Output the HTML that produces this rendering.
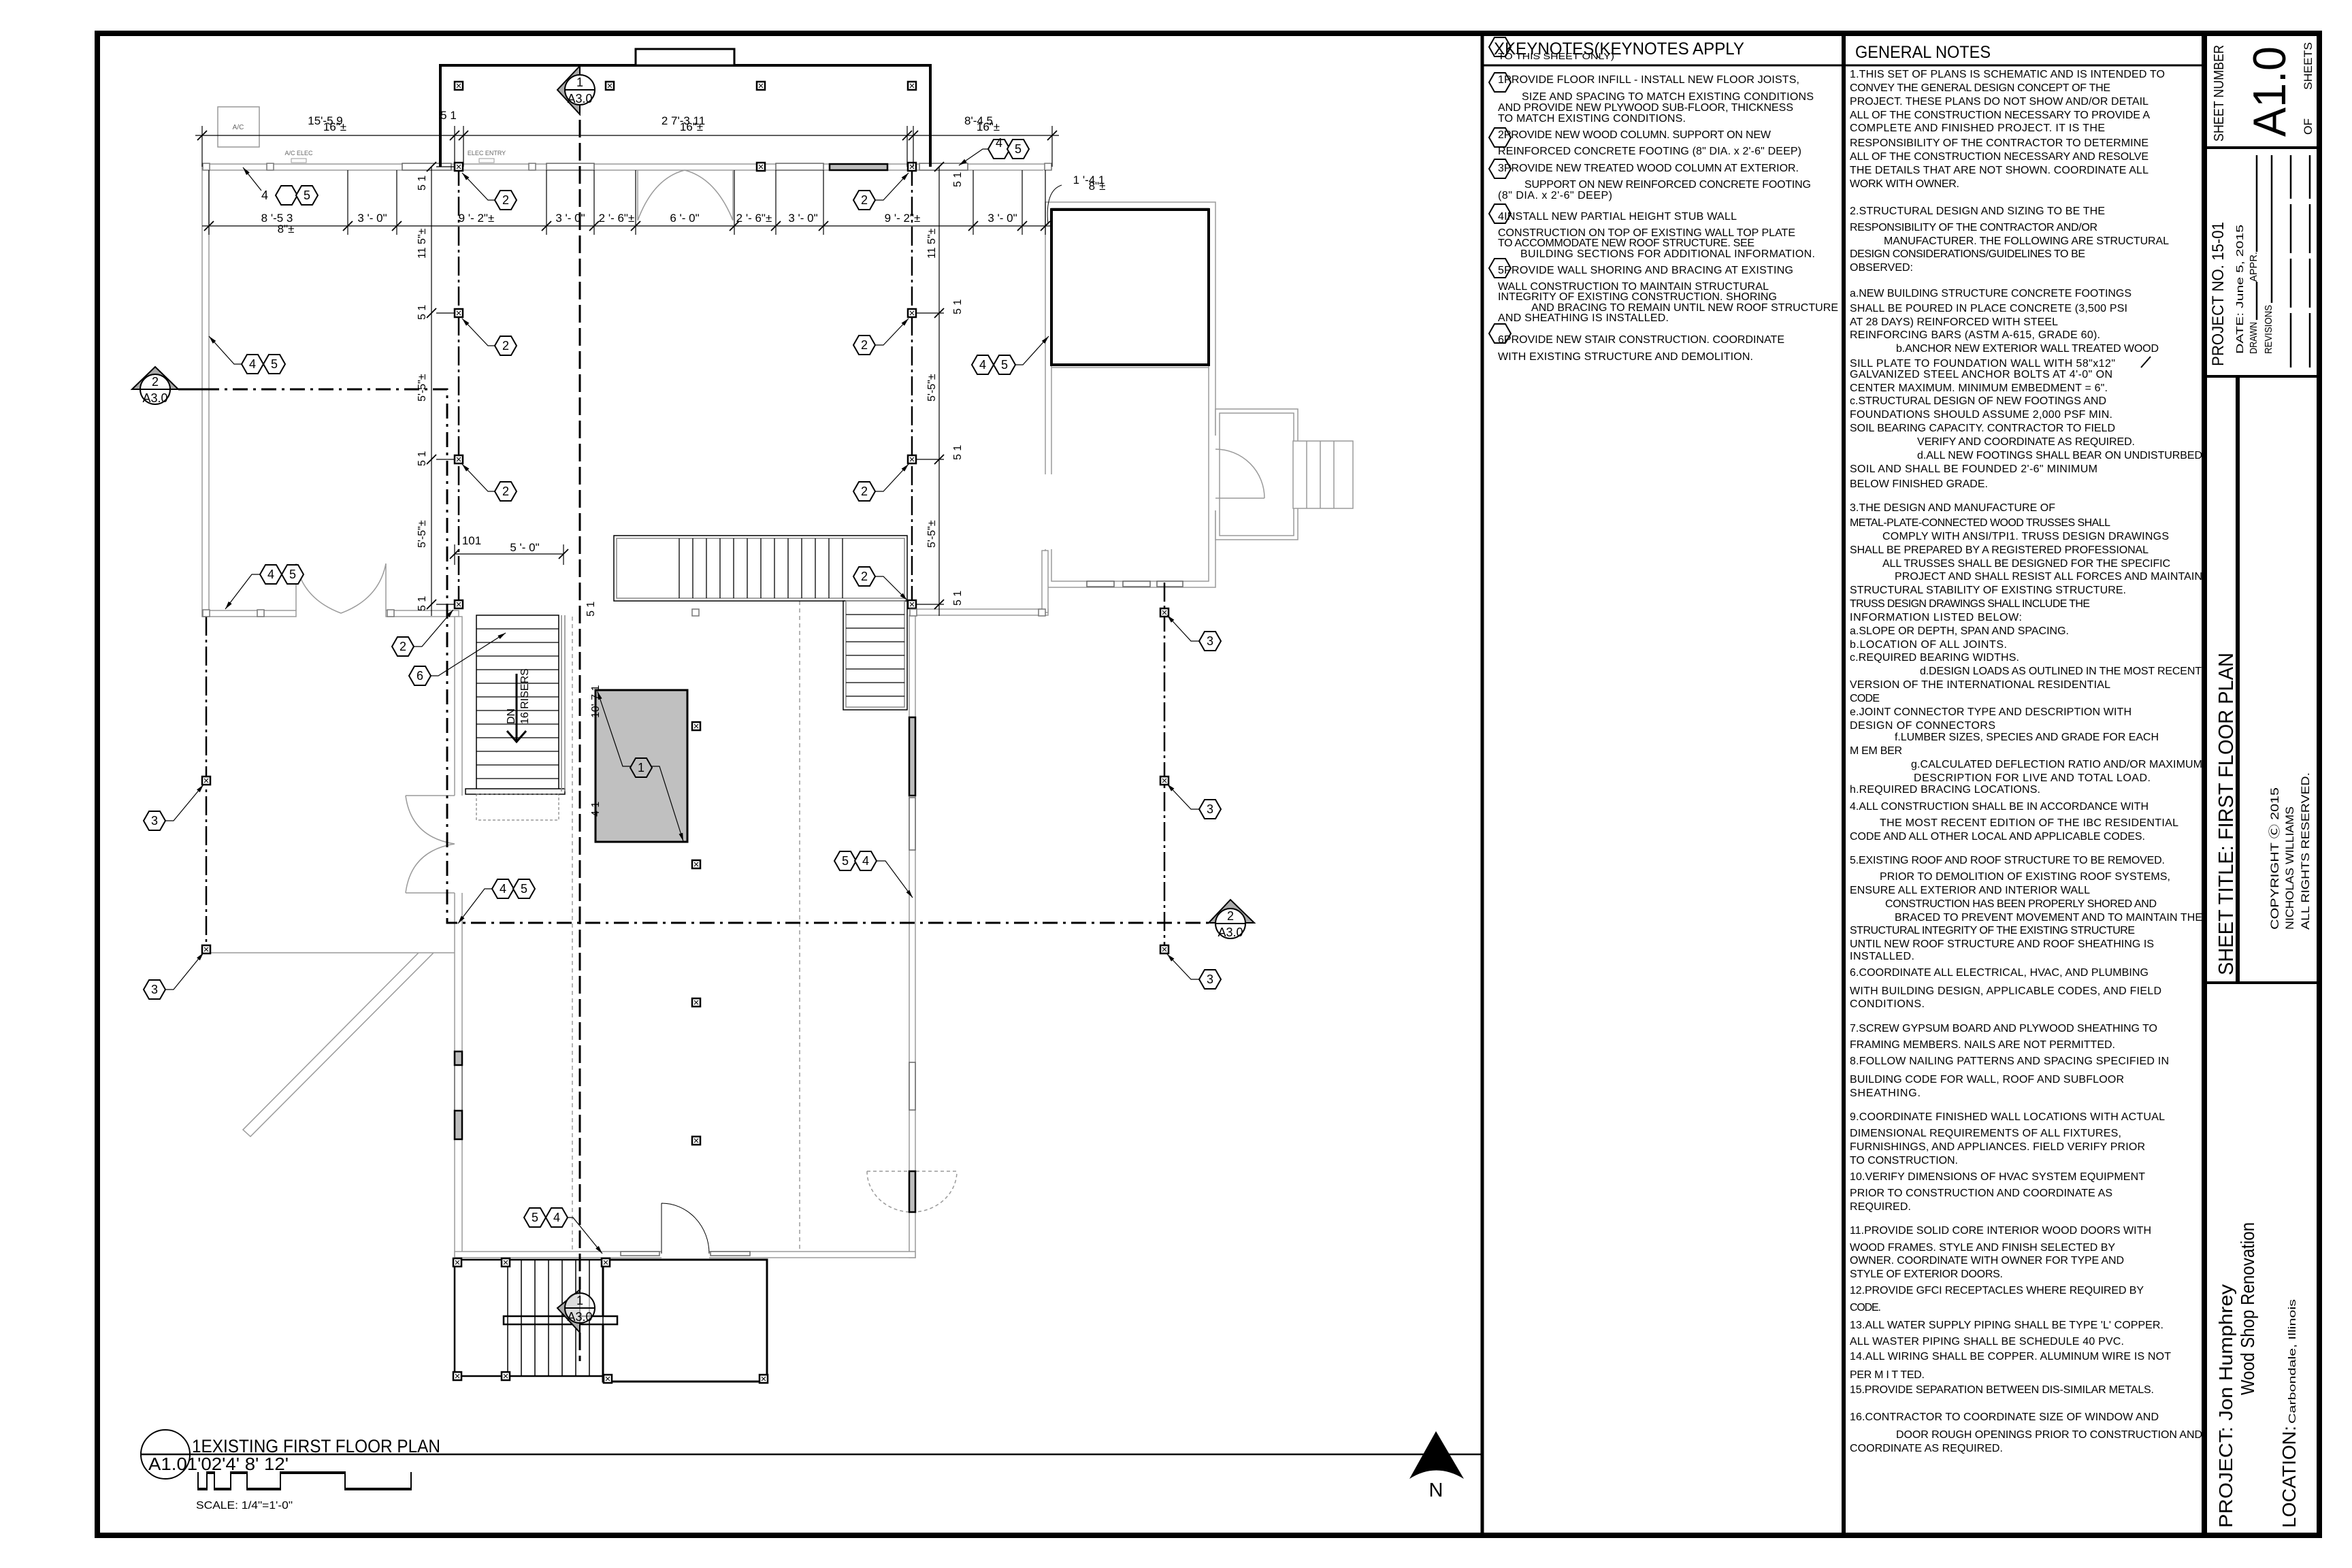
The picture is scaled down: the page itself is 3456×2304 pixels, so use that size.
<!DOCTYPE html>
<html><head><meta charset="utf-8"><style>html,body{margin:0;padding:0;background:#fff}svg{display:block}</style></head>
<body>
<svg xmlns="http://www.w3.org/2000/svg" width="3456" height="2304" viewBox="0 0 3456 2304" font-family="'Liberation Sans', Arial, sans-serif">
<defs>
<polygon id="hx" points="-16,0 -8,-14 8,-14 16,0 8,14 -8,14" fill="#fff" stroke="#000" stroke-width="2"/>
<marker id="ah" markerWidth="12" markerHeight="6" refX="12" refY="3" orient="auto" markerUnits="userSpaceOnUse"><path d="M0,0 L12,3 L0,6 z" fill="#000"/></marker>
<g id="sq"><rect x="-6" y="-6" width="12" height="12" fill="#fff" stroke="#000" stroke-width="2.5"/><path d="M-3,-3 L3,3 M3,-3 L-3,3" stroke="#000" stroke-width="1"/></g>
<rect id="lsq" x="-5" y="-5" width="10" height="10" fill="#fff" stroke="#777" stroke-width="1.5"/>
</defs>
<rect width="3456" height="2304" fill="#fff"/>

<!-- ============ PLAN ============ -->
<g fill="none" stroke-linecap="butt">
<g stroke="#9a9a9a" stroke-width="1.5" fill="#fff">
<rect x="297" y="241" width="1248" height="9"/>
<rect x="297" y="245" width="10" height="661"/>
<rect x="297" y="897" width="138" height="9"/>
<rect x="567" y="897" width="107" height="9"/>
<rect x="1342" y="895" width="198" height="9"/>
<rect x="1536" y="297" width="250" height="566"/>
<rect x="1545" y="306" width="231" height="548"/>
<rect x="1786" y="601" width="121" height="192"/>
<rect x="1792" y="607" width="109" height="180"/>
<rect x="1900" y="648" width="88" height="99"/>
<rect x="668" y="906" width="11" height="939"/>
<rect x="1336" y="904" width="9" height="944"/>
<rect x="668" y="1839" width="677" height="9"/>
<rect x="1531" y="809" width="9" height="91"/>
</g>
<rect x="1533" y="697" width="15" height="110" fill="#fff" stroke="none"/>
<rect x="1783" y="640" width="6" height="110" fill="#fff" stroke="none"/>
<rect x="1533" y="250" width="15" height="45" fill="#fff" stroke="none"/>
<rect x="665" y="1169" width="17" height="143" fill="#fff" stroke="none"/>
<rect x="972" y="1836" width="70" height="14" fill="#fff" stroke="none"/>
<g stroke="#9a9a9a" stroke-width="1.5">
<path d="M1920,648 V747 M1940,648 V747 M1960,648 V747"/>
<path d="M1545,540 H1776"/>
<path d="M1786,732 H1858 M1858,732 A72,72 0 0 0 1786,660"/>
<path d="M303,1400 H668 M615,1400 L357,1660 L368,1670 L637,1400"/>
<path d="M841,906 V1840 M1175,883 V1840" stroke-dasharray="6 5"/>
<path d="M937,250 V324 M1077,250 V324 M937,324 Q960,262 1006,250 M1077,324 Q1052,262 1006,250"/>
<path d="M435,828 V897 M567,828 V897 M435,828 Q445,880 501,901 M567,828 Q557,880 501,901"/>
<path d="M596,1169 H668 M596,1312 H668 M596,1169 Q604,1230 668,1240 M596,1312 Q604,1250 668,1240"/>
<path d="M972,1768 V1842 M972,1768 A70,74 0 0 1 1042,1842" stroke="#000" stroke-width="1"/>
<path d="M1274,1721 A66,60 0 0 0 1406,1721 M1274,1721 H1406" stroke-dasharray="5 4"/>
</g>
<g stroke="#666" stroke-width="1.5" fill="#fff">
<rect x="591" y="240" width="72" height="10"/><rect x="803" y="240" width="70" height="10"/><rect x="1140" y="240" width="70" height="10"/><rect x="1351" y="240" width="71" height="10"/>
<rect x="1336" y="1172" width="9" height="77"/><rect x="1336" y="1561" width="9" height="70"/>
<rect x="668" y="1565" width="11" height="67"/>
<rect x="912" y="1839" width="57" height="6"/><rect x="1044" y="1839" width="58" height="6"/>
<rect x="1597" y="854" width="40" height="8"/><rect x="1650" y="854" width="40" height="8"/><rect x="1700" y="854" width="38" height="8"/>
</g>
<g stroke="#000" stroke-width="2.5" fill="#bdbdbd">
<rect x="1219" y="241" width="85" height="9"/>
<rect x="1336" y="1054" width="9" height="115"/><rect x="1336" y="1721" width="9" height="60"/>
<rect x="668" y="1545" width="11" height="20"/><rect x="668" y="1632" width="11" height="42"/>
</g>

<path d="M647,245 V96 H1367 V245" stroke="#000" stroke-width="4"/>
<rect x="934" y="72" width="145" height="24" fill="#fff" stroke="#000" stroke-width="3"/>
<rect x="1545" y="308" width="231" height="228" stroke="#000" stroke-width="4"/>

<g stroke="#000" stroke-width="1.5" fill="#fff">
<rect x="902" y="787" width="431" height="96"/>
<rect x="906" y="791" width="423" height="88" stroke="#888"/>
<rect x="1239" y="883" width="94" height="160"/>
<rect x="1243" y="883" width="86" height="156" stroke="#888"/>
</g>
<path stroke="#000" stroke-width="1.3" d="M998,791V879M1018,791V879M1038,791V879M1058,791V879M1078,791V879M1098,791V879M1118,791V879M1138,791V879M1158,791V879M1178,791V879M1198,791V879M1218,791V879M1238,791V879 M1243,903H1329M1243,923H1329M1243,943H1329M1243,963H1329M1243,983H1329M1243,1003H1329M1243,1023H1329"/>

<g stroke="#000" stroke-width="1.5" fill="#fff">
<rect x="700" y="904" width="121" height="259"/>
<rect x="684" y="1159" width="146" height="8"/>
</g>
<path stroke="#000" stroke-width="1.2" d="M700,924H821M700,944H821M700,964H821M700,984H821M700,1004H821M700,1024H821M700,1044H821M700,1064H821M700,1084H821M700,1104H821M700,1124H821M700,1144H821"/>
<path stroke="#888" stroke-width="1.5" d="M825,904V1163M830,904V1163"/>
<rect x="700" y="1167" width="121" height="38" stroke="#666" stroke-width="1" stroke-dasharray="4 3"/>
<path d="M759,990V1090 M745,1074L759,1090L773,1074" stroke="#000" stroke-width="3"/>

<g stroke="#000" stroke-width="2.5" fill="#fff">
<rect x="668" y="1851" width="239" height="171"/>
<rect x="886" y="1851" width="241" height="179" stroke-width="3"/>
<rect x="740" y="1934" width="167" height="12"/>
</g>
<path stroke="#000" stroke-width="1.5" d="M746,1851V2022M766,1851V2022M786,1851V2022M806,1851V2022M826,1851V2022M846,1851V2022M866,1851V2022M886,1851V2022"/>
<g><use href="#sq" x="672" y="1855"/><use href="#sq" x="743" y="1855"/><use href="#sq" x="890" y="1855"/><use href="#sq" x="672" y="2022"/><use href="#sq" x="743" y="2022"/><use href="#sq" x="893" y="2026"/><use href="#sq" x="1122" y="2026"/></g>

<rect x="875" y="1014" width="135" height="223" fill="#c0c0c0" stroke="#000" stroke-width="3"/>

<g stroke="#000" stroke-width="2.5" stroke-dasharray="28 6 4 6">
<path d="M674,245V888"/><path d="M1340,245V888"/><path d="M1711,856V1395"/><path d="M303,906V1400"/>
</g>
<path d="M852,176V1895 M852,1958V2000" stroke="#000" stroke-width="3" stroke-dasharray="26 8"/>
<path d="M300,572H657V1356H1776" stroke="#000" stroke-width="3" stroke-dasharray="22 8 4 8"/>
<path d="M262,572H300" stroke="#000" stroke-width="3"/>

<g><use href="#sq" x="674" y="126"/><use href="#sq" x="896" y="126"/><use href="#sq" x="1118" y="126"/><use href="#sq" x="1340" y="126"/>
<use href="#sq" x="674" y="245"/><use href="#sq" x="1118" y="245"/><use href="#sq" x="1340" y="245"/>
<use href="#sq" x="674" y="460"/><use href="#sq" x="674" y="675"/><use href="#sq" x="674" y="888"/>
<use href="#sq" x="1340" y="460"/><use href="#sq" x="1340" y="675"/><use href="#sq" x="1340" y="888"/>
<use href="#sq" x="1711" y="900"/><use href="#sq" x="1711" y="1147"/><use href="#sq" x="1711" y="1395"/>
<use href="#sq" x="303" y="1147"/><use href="#sq" x="303" y="1395"/>
<use href="#sq" x="1023" y="1067"/><use href="#sq" x="1023" y="1270"/><use href="#sq" x="1023" y="1473"/><use href="#sq" x="1023" y="1676"/></g>
<g><use href="#lsq" x="303" y="245"/><use href="#lsq" x="397" y="245"/><use href="#lsq" x="782" y="245"/><use href="#lsq" x="1540" y="245"/>
<use href="#lsq" x="303" y="901"/><use href="#lsq" x="383" y="901"/><use href="#lsq" x="574" y="901"/><use href="#lsq" x="1022" y="900"/><use href="#lsq" x="1342" y="900"/><use href="#lsq" x="1531" y="900"/></g>

<rect x="320" y="157" width="61" height="59" stroke="#999" stroke-width="1.5"/>
<rect x="428" y="233" width="22" height="6" stroke="#999" stroke-width="1"/>
<rect x="704" y="233" width="22" height="6" stroke="#999" stroke-width="1"/>

<g stroke="#000" stroke-width="1.2">
<path d="M287,199H1556 M297,332H1546 M634,245V905 M1380,245V905 M668,814H828"/>
<path d="M297,185V245 M668,185V245 M681,185V245 M1333,185V245 M1342,185V245 M1546,185V245"/>
<path d="M307,250V345 M511,250V345 M583,250V345 M803,250V345 M873,250V345 M934,250V345 M1079,250V345 M1140,250V345 M1210,250V345 M1430,250V345 M1502,250V345 M1536,250V345"/>
<path d="M641,460H668 M641,675H668 M641,888H668 M1346,460H1387 M1346,675H1387 M1346,888H1387 M641,245H668 M668,800V830 M828,800V830"/>
</g>
<g stroke="#000" stroke-width="1.8">
<path d="M290,206l14,-14 M661,206l14,-14 M674,206l14,-14 M1326,206l14,-14 M1335,206l14,-14 M1539,206l14,-14"/>
<path d="M300,339l14,-14 M504,339l14,-14 M576,339l14,-14 M796,339l14,-14 M866,339l14,-14 M927,339l14,-14 M1072,339l14,-14 M1133,339l14,-14 M1203,339l14,-14 M1423,339l14,-14 M1495,339l14,-14 M1529,339l14,-14"/>
<path d="M627,467l14,-14 M627,682l14,-14 M627,895l14,-14 M627,252l14,-14 M1373,467l14,-14 M1373,682l14,-14 M1373,895l14,-14 M1373,252l14,-14 M661,821l14,-14 M821,821l14,-14"/>
</g>
<path d="M1560,272 Q1535,280 1540,330" stroke="#000" stroke-width="1"/>
</g>

<g stroke="#000" stroke-width="2">
<polygon points="819,132 852,97 852,168" fill="#aaa"/>
<circle cx="852" cy="132" r="22" fill="#fff"/><path d="M830,132H874"/>
<polygon points="194,572 228,539 262,572" fill="#aaa"/>
<circle cx="228" cy="572" r="22" fill="#fff"/><path d="M206,572H250"/>
<polygon points="1776,1356 1808,1322 1843,1356" fill="#aaa"/>
<circle cx="1808" cy="1357" r="22" fill="#fff"/><path d="M1786,1357H1830"/>
<polygon points="819,1922 852,1895 852,1958" fill="#aaa"/>
<circle cx="852" cy="1922" r="22" fill="#fff" fill-opacity="0.6"/><path d="M830,1922H874"/>
</g>
<g font-size="18" text-anchor="middle" fill="#000">
<text x="852" y="127">1</text><text x="852" y="151">A3.0</text>
<text x="228" y="567">2</text><text x="228" y="591">A3.0</text>
<text x="1808" y="1352">2</text><text x="1808" y="1376">A3.0</text>
<text x="852" y="1917">1</text><text x="852" y="1941">A3.0</text>
</g>

<g fill="none" stroke="#000" stroke-width="1.2" marker-end="url(#ah)">
<path d="M384,280 L357,246"/>
<path d="M727,294 H717 L679,254"/><path d="M727,508 H717 L679,468"/><path d="M727,722 H717 L679,682"/>
<path d="M355,535 H344 L307,494"/>
<path d="M382,844 H370 L331,895"/>
<path d="M608,950 H620 L666,896"/>
<path d="M633,993 H644 L743,930"/>
<path d="M1286,294 H1298 L1335,254"/><path d="M1286,507 H1298 L1335,468"/><path d="M1286,722 H1298 L1335,682"/><path d="M1286,847 H1298 L1333,882"/>
<path d="M1452,219 H1444 L1409,243"/>
<path d="M1492,536 H1503 L1541,494"/>
<path d="M1762,942 H1750 L1715,904"/><path d="M1762,1189 H1750 L1715,1152"/><path d="M1762,1439 H1750 L1715,1402"/>
<path d="M243,1206 H255 L299,1153"/><path d="M243,1454 H255 L299,1400"/>
<path d="M723,1306 H712 L673,1357"/>
<path d="M834,1789 H842 L885,1842"/>
<path d="M1288,1265 H1301 L1341,1319"/>
<path d="M928,1126 H915 L878,1016"/><path d="M956,1126 H969 L1004,1236"/>
</g>

<g>
<use href="#hx" x="421" y="287"/><use href="#hx" x="451" y="287"/>
<use href="#hx" x="743" y="294"/><use href="#hx" x="743" y="508"/><use href="#hx" x="743" y="722"/>
<use href="#hx" x="371" y="535"/><use href="#hx" x="403" y="535"/>
<use href="#hx" x="398" y="844"/><use href="#hx" x="430" y="844"/>
<use href="#hx" x="592" y="950"/><use href="#hx" x="617" y="993"/>
<use href="#hx" x="1270" y="294"/><use href="#hx" x="1270" y="507"/><use href="#hx" x="1270" y="722"/><use href="#hx" x="1270" y="847"/>
<use href="#hx" x="1468" y="219"/><use href="#hx" x="1496" y="219"/>
<use href="#hx" x="1444" y="536"/><use href="#hx" x="1476" y="536"/>
<use href="#hx" x="1778" y="942"/><use href="#hx" x="1778" y="1189"/><use href="#hx" x="1778" y="1439"/>
<use href="#hx" x="227" y="1206"/><use href="#hx" x="227" y="1454"/>
<use href="#hx" x="739" y="1306"/><use href="#hx" x="770" y="1306"/>
<use href="#hx" x="786" y="1789"/><use href="#hx" x="818" y="1789"/>
<use href="#hx" x="1242" y="1265"/><use href="#hx" x="1272" y="1265"/>
<polygon points="926,1128 934,1114 950,1114 958,1128 950,1142 934,1142" fill="#c0c0c0" stroke="#000" stroke-width="2"/>
</g>
<g font-size="18" text-anchor="middle" fill="#000">
<text x="389" y="293">4</text><text x="451" y="293">5</text>
<text x="743" y="300">2</text><text x="743" y="514">2</text><text x="743" y="728">2</text>
<text x="371" y="541">4</text><text x="403" y="541">5</text>
<text x="398" y="850">4</text><text x="430" y="850">5</text>
<text x="592" y="956">2</text><text x="617" y="999">6</text>
<text x="1270" y="300">2</text><text x="1270" y="513">2</text><text x="1270" y="728">2</text><text x="1270" y="853">2</text>
<text x="1468" y="216">4</text><text x="1496" y="225">5</text>
<text x="1444" y="542">4</text><text x="1476" y="542">5</text>
<text x="1778" y="948">3</text><text x="1778" y="1195">3</text><text x="1778" y="1445">3</text>
<text x="227" y="1212">3</text><text x="227" y="1460">3</text>
<text x="739" y="1312">4</text><text x="770" y="1312">5</text>
<text x="786" y="1795">5</text><text x="818" y="1795">4</text>
<text x="1242" y="1271">5</text><text x="1272" y="1271">4</text>
<text x="942" y="1134">1</text>
</g>

<g font-size="17" fill="#000" text-anchor="middle">
<text x="478" y="183">15'-5 9</text><text x="492" y="192">16"±</text>
<text x="659" y="175">5 1</text>
<text x="1004" y="183">2 7'-3 11</text><text x="1016" y="192">16"±</text>
<text x="1438" y="183">8'-4 5</text><text x="1452" y="192">16"±</text>
<text x="407" y="326">8 '-5 3</text><text x="420" y="342">8"±</text>
<text x="547" y="326">3 '- 0"</text><text x="700" y="326">9 '- 2"±</text><text x="838" y="326">3 '- 0"</text>
<text x="906" y="326">2 '- 6"±</text><text x="1006" y="326">6 '- 0"</text><text x="1108" y="326">2 '- 6"±</text>
<text x="1180" y="326">3 '- 0"</text><text x="1326" y="326">9 '- 2"±</text><text x="1473" y="326">3 '- 0"</text>
<text x="1600" y="270">1 '-4 1</text><text x="1612" y="279">8"±</text>
<text x="693" y="800">101</text><text x="771" y="810">5 '- 0"</text>
<text x="350" y="190" font-size="10" fill="#666">A/C</text>
<text x="439" y="228" font-size="9" fill="#666">A/C ELEC</text>
<text x="715" y="228" font-size="9" fill="#666">ELEC ENTRY</text>
</g>
<g font-size="16" fill="#000">
<text transform="translate(625,380) rotate(-90)">11 5"±</text>
<text transform="translate(625,590) rotate(-90)">5'-5"±</text>
<text transform="translate(625,805) rotate(-90)">5'-5"±</text>
<text transform="translate(625,280) rotate(-90)">5 1</text>
<text transform="translate(625,470) rotate(-90)">5 1</text>
<text transform="translate(625,685) rotate(-90)">5 1</text>
<text transform="translate(625,898) rotate(-90)">5 1</text>
<text transform="translate(1374,380) rotate(-90)">11 5"±</text>
<text transform="translate(1374,590) rotate(-90)">5'-5"±</text>
<text transform="translate(1374,805) rotate(-90)">5'-5"±</text>
<text transform="translate(1412,275) rotate(-90)">5 1</text>
<text transform="translate(1412,462) rotate(-90)">5 1</text>
<text transform="translate(1412,676) rotate(-90)">5 1</text>
<text transform="translate(1412,890) rotate(-90)">5 1</text>
<text transform="translate(880,1055) rotate(-90)">10'-7 1</text>
<text transform="translate(880,1200) rotate(-90)">4 1</text>
<text transform="translate(873,906) rotate(-90)">5 1</text>
<text transform="translate(756,1064) rotate(-90)">DN</text>
<text transform="translate(776,1064) rotate(-90)">16 RISERS</text>
</g>

<path d="M207,2137H2178" stroke="#000" stroke-width="2.5"/>
<circle cx="243" cy="2137" r="36" fill="none" stroke="#000" stroke-width="2"/>
<text x="282" y="2134" font-size="27" textLength="365" lengthAdjust="spacingAndGlyphs">1EXISTING FIRST FLOOR PLAN</text>
<text x="218" y="2160" font-size="26" textLength="206" lengthAdjust="spacingAndGlyphs">A1.01'02'4' 8' 12'</text>
<path d="M291,2163V2189H304V2163H315V2189H339V2163H363V2189H412V2163H507V2189H604V2163" fill="none" stroke="#000" stroke-width="2"/>
<path d="M291,2188H304M315,2188H339M363,2188H412M507,2188H604M304,2164H315M339,2164H363M412,2164H507" stroke="#000" stroke-width="4"/>
<text x="288" y="2217" font-size="16" textLength="142" lengthAdjust="spacingAndGlyphs">SCALE: 1/4"=1'-0"</text>
<path d="M2110,2103 L2071,2173 Q2110,2148 2151,2173 Z" fill="#000"/>
<text x="2110" y="2199" font-size="29" text-anchor="middle" fill="#000">N</text>

<!-- ============ FRAME ============ -->
<rect x="143" y="49" width="3265" height="2207" fill="none" stroke="#000" stroke-width="8"/>
<g stroke="#000">
<path d="M2178,49V2256" stroke-width="5"/>
<path d="M2709,49V2256" stroke-width="6"/>
<path d="M3239,49V2256" stroke-width="8"/>
<path d="M2178,96H3239" stroke-width="3"/>
<path d="M3239,217H3408 M3239,553H3408 M3239,1444H3408" stroke-width="4"/>
<path d="M3288,553V1444" stroke-width="6"/>
</g>

<!-- ============ KEYNOTES ============ -->
<g>
<use href="#hx" x="2204" y="69"/><use href="#hx" x="2204" y="121"/><use href="#hx" x="2204" y="202"/><use href="#hx" x="2204" y="248"/><use href="#hx" x="2204" y="314"/><use href="#hx" x="2204" y="394"/><use href="#hx" x="2204" y="490"/>
</g>
<g fill="#000">
<text x="2195" y="80" font-size="25" textLength="368" lengthAdjust="spacingAndGlyphs">XKEYNOTES(KEYNOTES APPLY</text>
<text x="2201" y="87" font-size="13" textLength="171" lengthAdjust="spacingAndGlyphs">TO THIS SHEET ONLY)</text>
<g font-size="16" lengthAdjust="spacingAndGlyphs">
<text x="2201" y="122" textLength="443">1PROVIDE FLOOR INFILL - INSTALL NEW FLOOR JOISTS,</text>
<text x="2236" y="147" textLength="429">SIZE AND SPACING TO MATCH EXISTING CONDITIONS</text>
<text x="2201" y="163" textLength="434">AND PROVIDE NEW PLYWOOD SUB-FLOOR, THICKNESS</text>
<text x="2201" y="179" textLength="276">TO MATCH EXISTING CONDITIONS.</text>
<text x="2201" y="203" textLength="401">2PROVIDE NEW WOOD COLUMN. SUPPORT ON NEW</text>
<text x="2201" y="227" textLength="446">REINFORCED CONCRETE FOOTING (8" DIA. x 2'-6" DEEP)</text>
<text x="2201" y="252" textLength="442">3PROVIDE NEW TREATED WOOD COLUMN AT EXTERIOR.</text>
<text x="2240" y="276" textLength="421">SUPPORT ON NEW REINFORCED CONCRETE FOOTING</text>
<text x="2201" y="292" textLength="168">(8" DIA. x 2'-6" DEEP)</text>
<text x="2201" y="323" textLength="351">4INSTALL NEW PARTIAL HEIGHT STUB WALL</text>
<text x="2201" y="347" textLength="437">CONSTRUCTION ON TOP OF EXISTING WALL TOP PLATE</text>
<text x="2201" y="362" textLength="377">TO ACCOMMODATE NEW ROOF STRUCTURE. SEE</text>
<text x="2234" y="378" textLength="433">BUILDING SECTIONS FOR ADDITIONAL INFORMATION.</text>
<text x="2201" y="402" textLength="434">5PROVIDE WALL SHORING AND BRACING AT EXISTING</text>
<text x="2201" y="426" textLength="398">WALL CONSTRUCTION TO MAINTAIN STRUCTURAL</text>
<text x="2201" y="441" textLength="410">INTEGRITY OF EXISTING CONSTRUCTION. SHORING</text>
<text x="2250" y="457" textLength="451">AND BRACING TO REMAIN UNTIL NEW ROOF STRUCTURE</text>
<text x="2201" y="472" textLength="251">AND SHEATHING IS INSTALLED.</text>
<text x="2201" y="504" textLength="421">6PROVIDE NEW STAIR CONSTRUCTION. COORDINATE</text>
<text x="2201" y="529" textLength="375">WITH EXISTING STRUCTURE AND DEMOLITION.</text>
</g>
</g>

<!-- ============ GENERAL NOTES ============ -->
<g fill="#000">
<text x="2726" y="85" font-size="25" textLength="199" lengthAdjust="spacingAndGlyphs">GENERAL NOTES</text>
<g font-size="16" lengthAdjust="spacingAndGlyphs">
<text x="2718" y="114" textLength="463">1.THIS SET OF PLANS IS SCHEMATIC AND IS INTENDED TO</text>
<text x="2718" y="134" textLength="383">CONVEY THE GENERAL DESIGN CONCEPT OF THE</text>
<text x="2718" y="154" textLength="439">PROJECT. THESE PLANS DO NOT SHOW AND/OR DETAIL</text>
<text x="2718" y="174" textLength="441">ALL OF THE CONSTRUCTION NECESSARY TO PROVIDE A</text>
<text x="2718" y="193" textLength="375">COMPLETE AND FINISHED PROJECT. IT IS THE</text>
<text x="2718" y="215" textLength="439">RESPONSIBILITY OF THE CONTRACTOR TO DETERMINE</text>
<text x="2718" y="235" textLength="439">ALL OF THE CONSTRUCTION NECESSARY AND RESOLVE</text>
<text x="2718" y="255" textLength="439">THE DETAILS THAT ARE NOT SHOWN. COORDINATE ALL</text>
<text x="2718" y="275" textLength="161">WORK WITH OWNER.</text>
<text x="2718" y="315" textLength="375">2.STRUCTURAL DESIGN AND SIZING TO BE THE</text>
<text x="2718" y="339" textLength="364">RESPONSIBILITY OF THE CONTRACTOR AND/OR</text>
<text x="2768" y="359" textLength="419">MANUFACTURER. THE FOLLOWING ARE STRUCTURAL</text>
<text x="2718" y="378" textLength="346">DESIGN CONSIDERATIONS/GUIDELINES TO BE</text>
<text x="2718" y="398" textLength="93">OBSERVED:</text>
<text x="2718" y="436" textLength="414">a.NEW BUILDING STRUCTURE CONCRETE FOOTINGS</text>
<text x="2718" y="458" textLength="408">SHALL BE POURED IN PLACE CONCRETE (3,500 PSI</text>
<text x="2718" y="478" textLength="306">AT 28 DAYS) REINFORCED WITH STEEL</text>
<text x="2718" y="497" textLength="368">REINFORCING BARS (ASTM A-615, GRADE 60).</text>
<text x="2786" y="517" textLength="386">b.ANCHOR NEW EXTERIOR WALL TREATED WOOD</text>
<text x="2718" y="539" textLength="390">SILL PLATE TO FOUNDATION WALL WITH 58"x12"</text>
<text x="2718" y="555" textLength="386">GALVANIZED STEEL ANCHOR BOLTS AT 4'-0" ON</text>
<text x="2718" y="575" textLength="379">CENTER MAXIMUM. MINIMUM EMBEDMENT = 6".</text>
<text x="2718" y="594" textLength="377">c.STRUCTURAL DESIGN OF NEW FOOTINGS AND</text>
<text x="2718" y="614" textLength="386">FOUNDATIONS SHOULD ASSUME 2,000 PSF MIN.</text>
<text x="2718" y="634" textLength="390">SOIL BEARING CAPACITY. CONTRACTOR TO FIELD</text>
<text x="2817" y="654" textLength="320">VERIFY AND COORDINATE AS REQUIRED.</text>
<text x="2817" y="674" textLength="419">d.ALL NEW FOOTINGS SHALL BEAR ON UNDISTURBED</text>
<text x="2718" y="694" textLength="364">SOIL AND SHALL BE FOUNDED 2'-6" MINIMUM</text>
<text x="2718" y="716" textLength="203">BELOW FINISHED GRADE.</text>
<text x="2718" y="751" textLength="302">3.THE DESIGN AND MANUFACTURE OF</text>
<text x="2718" y="773" textLength="383">METAL-PLATE-CONNECTED WOOD TRUSSES SHALL</text>
<text x="2766" y="793" textLength="421">COMPLY WITH ANSI/TPI1. TRUSS DESIGN DRAWINGS</text>
<text x="2718" y="813" textLength="439">SHALL BE PREPARED BY A REGISTERED PROFESSIONAL</text>
<text x="2766" y="833" textLength="423">ALL TRUSSES SHALL BE DESIGNED FOR THE SPECIFIC</text>
<text x="2784" y="852" textLength="452">PROJECT AND SHALL RESIST ALL FORCES AND MAINTAIN</text>
<text x="2718" y="872" textLength="406">STRUCTURAL STABILITY OF EXISTING STRUCTURE.</text>
<text x="2718" y="892" textLength="353">TRUSS DESIGN DRAWINGS SHALL INCLUDE THE</text>
<text x="2718" y="912" textLength="253">INFORMATION LISTED BELOW:</text>
<text x="2718" y="932" textLength="322">a.SLOPE OR DEPTH, SPAN AND SPACING.</text>
<text x="2718" y="952" textLength="231">b.LOCATION OF ALL JOINTS.</text>
<text x="2718" y="971" textLength="249">c.REQUIRED BEARING WIDTHS.</text>
<text x="2821" y="991" textLength="414">d.DESIGN LOADS AS OUTLINED IN THE MOST RECENT</text>
<text x="2718" y="1011" textLength="383">VERSION OF THE INTERNATIONAL RESIDENTIAL</text>
<text x="2718" y="1031" textLength="44">CODE</text>
<text x="2718" y="1051" textLength="414">e.JOINT CONNECTOR TYPE AND DESCRIPTION WITH</text>
<text x="2718" y="1071" textLength="214">DESIGN OF CONNECTORS</text>
<text x="2784" y="1088" textLength="388">f.LUMBER SIZES, SPECIES AND GRADE FOR EACH</text>
<text x="2718" y="1108" textLength="77">M EM BER</text>
<text x="2808" y="1128" textLength="428">g.CALCULATED DEFLECTION RATIO AND/OR MAXIMUM</text>
<text x="2812" y="1148" textLength="348">DESCRIPTION FOR LIVE AND TOTAL LOAD.</text>
<text x="2718" y="1165" textLength="280">h.REQUIRED BRACING LOCATIONS.</text>
<text x="2718" y="1190" textLength="439">4.ALL CONSTRUCTION SHALL BE IN ACCORDANCE WITH</text>
<text x="2762" y="1214" textLength="439">THE MOST RECENT EDITION OF THE IBC RESIDENTIAL</text>
<text x="2718" y="1234" textLength="434">CODE AND ALL OTHER LOCAL AND APPLICABLE CODES.</text>
<text x="2718" y="1269" textLength="463">5.EXISTING ROOF AND ROOF STRUCTURE TO BE REMOVED.</text>
<text x="2762" y="1293" textLength="427">PRIOR TO DEMOLITION OF EXISTING ROOF SYSTEMS,</text>
<text x="2718" y="1313" textLength="353">ENSURE ALL EXTERIOR AND INTERIOR WALL</text>
<text x="2770" y="1333" textLength="399">CONSTRUCTION HAS BEEN PROPERLY SHORED AND</text>
<text x="2784" y="1353" textLength="452">BRACED TO PREVENT MOVEMENT AND TO MAINTAIN THE</text>
<text x="2718" y="1372" textLength="419">STRUCTURAL INTEGRITY OF THE EXISTING STRUCTURE</text>
<text x="2718" y="1392" textLength="447">UNTIL NEW ROOF STRUCTURE AND ROOF SHEATHING IS</text>
<text x="2718" y="1410" textLength="95">INSTALLED.</text>
<text x="2718" y="1434" textLength="439">6.COORDINATE ALL ELECTRICAL, HVAC, AND PLUMBING</text>
<text x="2718" y="1461" textLength="458">WITH BUILDING DESIGN, APPLICABLE CODES, AND FIELD</text>
<text x="2718" y="1480" textLength="110">CONDITIONS.</text>
<text x="2718" y="1516" textLength="452">7.SCREW GYPSUM BOARD AND PLYWOOD SHEATHING TO</text>
<text x="2718" y="1540" textLength="390">FRAMING MEMBERS. NAILS ARE NOT PERMITTED.</text>
<text x="2718" y="1564" textLength="469">8.FOLLOW NAILING PATTERNS AND SPACING SPECIFIED IN</text>
<text x="2718" y="1591" textLength="403">BUILDING CODE FOR WALL, ROOF AND SUBFLOOR</text>
<text x="2718" y="1611" textLength="104">SHEATHING.</text>
<text x="2718" y="1646" textLength="463">9.COORDINATE FINISHED WALL LOCATIONS WITH ACTUAL</text>
<text x="2718" y="1670" textLength="399">DIMENSIONAL REQUIREMENTS OF ALL FIXTURES,</text>
<text x="2718" y="1690" textLength="434">FURNISHINGS, AND APPLIANCES. FIELD VERIFY PRIOR</text>
<text x="2718" y="1710" textLength="159">TO CONSTRUCTION.</text>
<text x="2718" y="1734" textLength="434">10.VERIFY DIMENSIONS OF HVAC SYSTEM EQUIPMENT</text>
<text x="2718" y="1758" textLength="386">PRIOR TO CONSTRUCTION AND COORDINATE AS</text>
<text x="2718" y="1778" textLength="90">REQUIRED.</text>
<text x="2718" y="1813" textLength="443">11.PROVIDE SOLID CORE INTERIOR WOOD DOORS WITH</text>
<text x="2718" y="1838" textLength="390">WOOD FRAMES. STYLE AND FINISH SELECTED BY</text>
<text x="2718" y="1857" textLength="403">OWNER. COORDINATE WITH OWNER FOR TYPE AND</text>
<text x="2718" y="1877" textLength="225">STYLE OF EXTERIOR DOORS.</text>
<text x="2718" y="1901" textLength="432">12.PROVIDE GFCI RECEPTACLES WHERE REQUIRED BY</text>
<text x="2718" y="1926" textLength="46">CODE.</text>
<text x="2718" y="1952" textLength="461">13.ALL WATER SUPPLY PIPING SHALL BE TYPE 'L' COPPER.</text>
<text x="2718" y="1976" textLength="403">ALL WASTER PIPING SHALL BE SCHEDULE 40 PVC.</text>
<text x="2718" y="1998" textLength="472">14.ALL WIRING SHALL BE COPPER. ALUMINUM WIRE IS NOT</text>
<text x="2718" y="2025" textLength="110">PER M I T TED.</text>
<text x="2718" y="2047" textLength="447">15.PROVIDE SEPARATION BETWEEN DIS-SIMILAR METALS.</text>
<text x="2718" y="2087" textLength="454">16.CONTRACTOR TO COORDINATE SIZE OF WINDOW AND</text>
<text x="2786" y="2113" textLength="450">DOOR ROUGH OPENINGS PRIOR TO CONSTRUCTION AND</text>
<text x="2718" y="2133" textLength="225">COORDINATE AS REQUIRED.</text>
</g>
</g>
<path d="M3146,540 L3160,524" stroke="#000" stroke-width="2"/>

<!-- ============ TITLE BLOCK ============ -->
<g fill="#000">
<text transform="translate(3267,208) rotate(-90)" font-size="20" textLength="142" lengthAdjust="spacingAndGlyphs">SHEET NUMBER</text>
<text transform="translate(3358,201) rotate(-90)" font-size="68" textLength="133" lengthAdjust="spacingAndGlyphs">A1.0</text>
<text transform="translate(3397,198) rotate(-90)" font-size="17" textLength="24" lengthAdjust="spacingAndGlyphs">OF</text>
<text transform="translate(3397,132) rotate(-90)" font-size="17" textLength="70" lengthAdjust="spacingAndGlyphs">SHEETS</text>
<text transform="translate(3267,538) rotate(-90)" font-size="24" textLength="212" lengthAdjust="spacingAndGlyphs">PROJECT NO.   15-01</text>
<text transform="translate(3296,520) rotate(-90)" font-size="15" textLength="190" lengthAdjust="spacingAndGlyphs">DATE:   June 5, 2015</text>
<text transform="translate(3316,520) rotate(-90)" font-size="15" textLength="47" lengthAdjust="spacingAndGlyphs">DRAWN</text>
<text transform="translate(3316,414) rotate(-90)" font-size="15" textLength="44" lengthAdjust="spacingAndGlyphs">APPR.</text>
<text transform="translate(3338,520) rotate(-90)" font-size="15" textLength="72" lengthAdjust="spacingAndGlyphs">REVISIONS</text>
<text transform="translate(3281,1433) rotate(-90)" font-size="31" textLength="474" lengthAdjust="spacingAndGlyphs">SHEET TITLE: FIRST FLOOR PLAN</text>
<text transform="translate(3348,1366) rotate(-90)" font-size="17" textLength="209" lengthAdjust="spacingAndGlyphs">COPYRIGHT Ⓒ 2015</text>
<text transform="translate(3370,1366) rotate(-90)" font-size="17" textLength="181" lengthAdjust="spacingAndGlyphs">NICHOLAS WILLIAMS</text>
<text transform="translate(3393,1366) rotate(-90)" font-size="17" textLength="231" lengthAdjust="spacingAndGlyphs">ALL RIGHTS RESERVED.</text>
<text transform="translate(3280,2245) rotate(-90)" font-size="28" textLength="358" lengthAdjust="spacingAndGlyphs">PROJECT:   Jon Humphrey</text>
<text transform="translate(3312,2050) rotate(-90)" font-size="28" textLength="254" lengthAdjust="spacingAndGlyphs">Wood Shop Renovation</text>
<text transform="translate(3373,2245) rotate(-90)" font-size="28" textLength="150" lengthAdjust="spacingAndGlyphs">LOCATION:</text>
<text transform="translate(3373,2092) rotate(-90)" font-size="15" textLength="183" lengthAdjust="spacingAndGlyphs">Carbondale, Illinois</text>
</g>
<g stroke="#000" stroke-width="2.5">
<path d="M3316,470V414 M3316,370V228"/>
<path d="M3338,445V228"/>
<path d="M3366,540V460 M3366,452V380 M3366,372V300 M3366,292V228"/>
<path d="M3394,540V460 M3394,452V380 M3394,372V300 M3394,292V228"/>
</g>
</svg>
</body></html>
